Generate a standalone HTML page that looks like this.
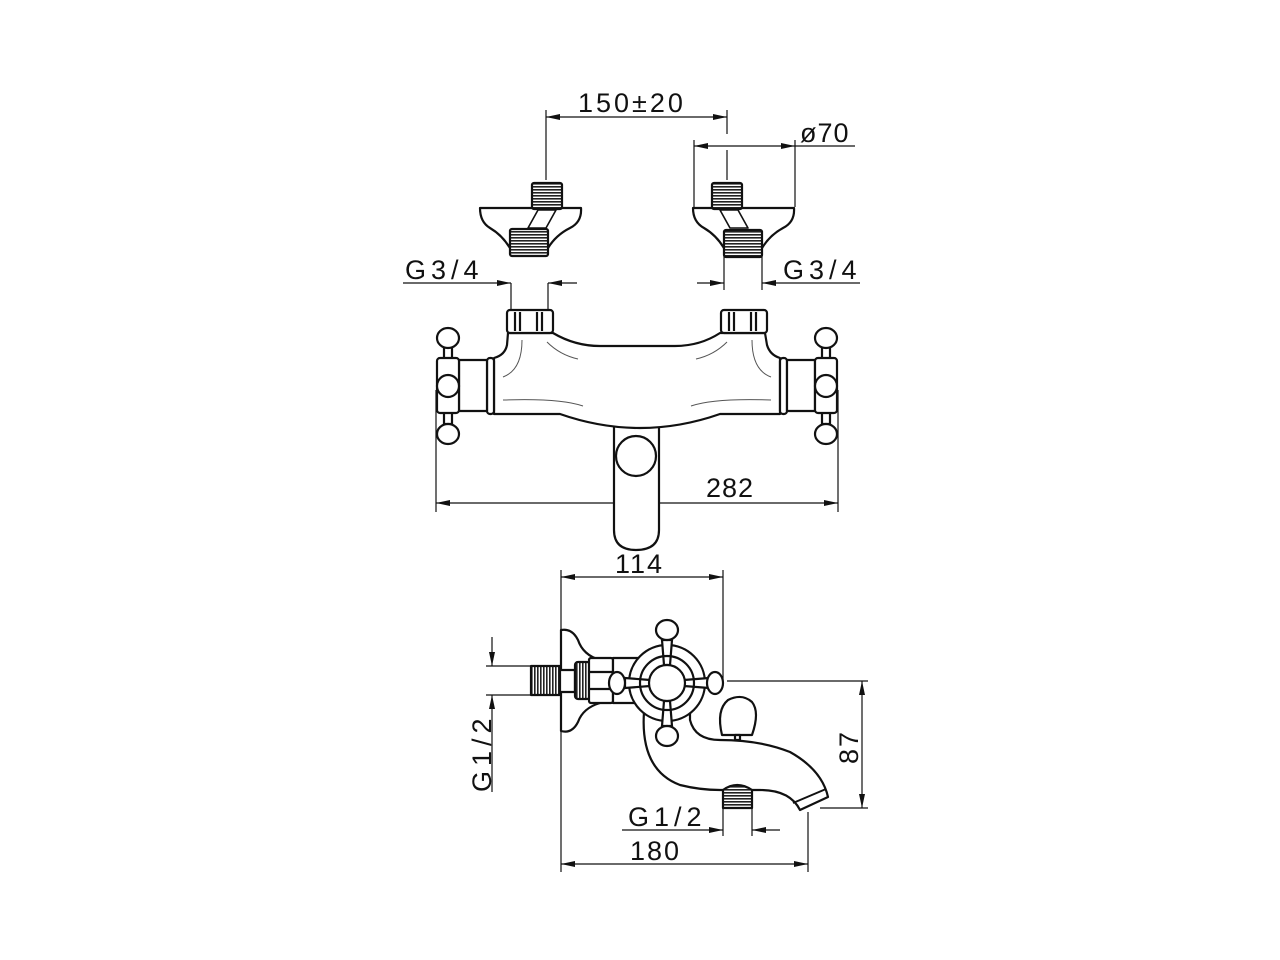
<!DOCTYPE html>
<html><head><meta charset="utf-8"><style>
html,body{margin:0;padding:0;background:#fff}
svg{display:block}
text{font-family:"Liberation Sans",sans-serif;font-size:27px;fill:#111}
</style></head><body>
<svg width="1280" height="960" viewBox="0 0 1280 960" xmlns="http://www.w3.org/2000/svg">
<defs>
<marker id="a" markerWidth="14" markerHeight="6" refX="14" refY="3" orient="auto-start-reverse" markerUnits="userSpaceOnUse">
<path d="M0,0 L14,3 L0,6 z" fill="#111"/></marker>
<pattern id="th" width="4" height="3" patternUnits="userSpaceOnUse"><rect width="4" height="3" fill="#fff"/><rect width="4" height="1.6" fill="#222"/></pattern>
<pattern id="tv" width="3" height="4" patternUnits="userSpaceOnUse"><rect width="3" height="4" fill="#fff"/><rect width="1.6" height="4" fill="#222"/></pattern>
</defs>
<g fill="none" stroke="#111" stroke-width="1.2">
<line x1="546" y1="110" x2="546" y2="180"/>
<line x1="727" y1="110" x2="727" y2="134"/>
<line x1="727" y1="150" x2="727" y2="180"/>
<line x1="546" y1="117" x2="727" y2="117" marker-start="url(#a)" marker-end="url(#a)"/>
<line x1="694" y1="140" x2="694" y2="207"/>
<line x1="795" y1="140" x2="795" y2="207"/>
<line x1="694" y1="146" x2="795" y2="146" marker-start="url(#a)" marker-end="url(#a)"/>
<line x1="795" y1="146" x2="855" y2="146"/>
<line x1="403" y1="283" x2="511" y2="283" marker-end="url(#a)"/>
<line x1="577" y1="283" x2="548" y2="283" marker-end="url(#a)"/>
<line x1="511" y1="283" x2="511" y2="310"/>
<line x1="548" y1="283" x2="548" y2="310"/>
<line x1="697" y1="283" x2="724" y2="283" marker-end="url(#a)"/>
<line x1="860" y1="283" x2="762" y2="283" marker-end="url(#a)"/>
<line x1="724" y1="256" x2="724" y2="290"/>
<line x1="762" y1="256" x2="762" y2="290"/>
<line x1="436" y1="390" x2="436" y2="512"/>
<line x1="838" y1="390" x2="838" y2="512"/>
<line x1="436" y1="503" x2="838" y2="503" marker-start="url(#a)" marker-end="url(#a)"/>
<line x1="561" y1="570" x2="561" y2="872"/>
<line x1="723" y1="570" x2="723" y2="680"/>
<line x1="561" y1="577" x2="723" y2="577" marker-start="url(#a)" marker-end="url(#a)"/>
<line x1="486" y1="666" x2="530" y2="666"/>
<line x1="486" y1="695" x2="530" y2="695"/>
<line x1="492" y1="637" x2="492" y2="666" marker-end="url(#a)"/>
<line x1="492" y1="792" x2="492" y2="695" marker-end="url(#a)"/>
<line x1="727" y1="681" x2="868" y2="681"/>
<line x1="820" y1="808" x2="868" y2="808"/>
<line x1="862" y1="681" x2="862" y2="808" marker-start="url(#a)" marker-end="url(#a)"/>
<line x1="622" y1="830" x2="723" y2="830" marker-end="url(#a)"/>
<line x1="780" y1="830" x2="752" y2="830" marker-end="url(#a)"/>
<line x1="723" y1="808" x2="723" y2="836"/>
<line x1="752" y1="808" x2="752" y2="836"/>
<line x1="808" y1="812" x2="808" y2="872"/>
<line x1="561" y1="864" x2="808" y2="864" marker-start="url(#a)" marker-end="url(#a)"/>
</g>

<text x="578" y="112" letter-spacing="3">150±20</text>
<text x="800" y="142" letter-spacing="1">ø70</text>
<text x="405" y="279" letter-spacing="5">G3/4</text>
<text x="783" y="279" letter-spacing="5">G3/4</text>
<text x="706" y="497" letter-spacing="1">282</text>
<text x="615" y="573" letter-spacing="2">114</text>
<text x="628" y="826" letter-spacing="5">G1/2</text>
<text x="630" y="860" letter-spacing="2">180</text>
<text transform="translate(491,792) rotate(-90)" letter-spacing="5">G1/2</text>
<text transform="translate(858,764) rotate(-90)" letter-spacing="2">87</text>

<g fill="#fff" stroke="#111" stroke-width="2.2" stroke-linejoin="round">
<path d="M480,208 L581,208 Q582,222 570,228 Q556,235 548,248 L510,248 Q502,235 490,228 Q480,222 480,208 z"/>
<path d="M538,210 L556,210 L546,228 L528,228 z" stroke-width="1.6"/>
<rect x="532" y="183" width="30" height="26" rx="2" fill="url(#th)"/>
<rect x="510" y="229" width="38" height="27" rx="2" fill="url(#th)"/>
<path d="M693,208 L794,208 Q795,222 783,228 Q770,235 762,248 L724,248 Q716,235 704,228 Q693,222 693,208 z"/>
<path d="M720,210 L738,210 L748,228 L730,228 z" stroke-width="1.6"/>
<rect x="712" y="183" width="30" height="26" rx="2" fill="url(#th)"/>
<rect x="724" y="230" width="38" height="27" rx="2" fill="url(#th)"/>

<path d="M614,425 L614,530 Q614,550 636,550 Q659,550 659,530 L659,425 z"/>
<circle cx="636" cy="456" r="20"/>
<path d="M508,333 L553,333 Q575,346 600,346 L675,346 Q700,346 720,333 L765,333 L767,345 Q770,355 780,358 L780,414 L720,414 Q680,428 640,428 Q600,428 560,414 L494,414 L494,358 Q505,355 507,345 z"/>
<g fill="none" stroke-width="1" stroke="#555">
<path d="M522,340 Q522,370 503,377"/><path d="M547,342 Q560,355 578,359"/>
<path d="M503,400 Q560,398 583,406"/>
<path d="M752,340 Q752,370 771,377"/><path d="M727,342 Q714,355 696,359"/>
<path d="M771,400 Q714,398 691,406"/>
</g>
<rect x="507" y="310" width="46" height="23" rx="3"/>
<line x1="515" y1="312" x2="515" y2="331"/><line x1="520" y1="312" x2="520" y2="331"/>
<line x1="537" y1="312" x2="537" y2="331"/><line x1="542" y1="312" x2="542" y2="331"/>
<rect x="721" y="310" width="46" height="23" rx="3"/>
<line x1="729" y1="312" x2="729" y2="331"/><line x1="734" y1="312" x2="734" y2="331"/>
<line x1="751" y1="312" x2="751" y2="331"/><line x1="756" y1="312" x2="756" y2="331"/>
<rect x="487" y="358" width="7" height="56" rx="3"/>
<rect x="459" y="360" width="28" height="51"/>
<path d="M444,346 L452,346 L452,360 L444,360 z M444,411 L452,411 L452,424 L444,424 z"/>
<ellipse cx="448" cy="338" rx="11" ry="10"/>
<ellipse cx="448" cy="434" rx="11" ry="10"/>
<rect x="437" y="358" width="22" height="55" rx="3"/>
<circle cx="448" cy="386" r="11"/>
<rect x="780" y="358" width="7" height="56" rx="3"/>
<rect x="787" y="360" width="28" height="51"/>
<path d="M822,346 L830,346 L830,360 L822,360 z M822,411 L830,411 L830,424 L822,424 z"/>
<ellipse cx="826" cy="338" rx="11" ry="10"/>
<ellipse cx="826" cy="434" rx="11" ry="10"/>
<rect x="815" y="358" width="22" height="55" rx="3"/>
<circle cx="826" cy="386" r="11"/>

<path d="M644,712 Q640,770 680,785 Q700,790 720,790 L760,790 Q790,790 800,810 L828,797 Q822,770 790,752 Q760,740 720,740 Q695,740 690,720 L690,712 z"/>
<path d="M793,803 L826,789" stroke-width="2"/>
<path d="M722,735 Q716,710 728,700 Q742,693 752,702 Q760,712 752,735 z"/>
<rect x="735" y="735" width="5" height="5"/>
<path d="M723,808 L723,790 Q737,780 752,790 L752,808 z" fill="url(#th)"/>
<path d="M561,630 Q572,628 578,640 Q583,655 600,660 L600,703 Q583,708 578,722 Q572,734 561,731 z"/>
<rect x="531" y="666" width="29" height="29" fill="url(#tv)"/>
<path d="M560,670 L575,670 L575,692 L560,692 z"/>
<rect x="575" y="662" width="15" height="37" rx="3" fill="url(#tv)"/>
<rect x="589" y="658" width="24" height="45" rx="2"/>
<line x1="589" y1="672" x2="613" y2="672"/><line x1="589" y1="689" x2="613" y2="689"/>
<rect x="613" y="658" width="36" height="45"/>
<circle cx="667" cy="683" r="38"/>
<path d="M662,640 L672,640 L670,665 L664,665 z M662,726 L672,726 L670,701 L664,701 z M625,678 L625,688 L650,686 L650,680 z M709,678 L709,688 L684,686 L684,680 z"/>
<ellipse cx="667" cy="630" rx="11" ry="10"/>
<ellipse cx="667" cy="736" rx="11" ry="10"/>
<ellipse cx="617" cy="683" rx="8" ry="11"/>
<ellipse cx="715" cy="683" rx="8" ry="11"/>
<circle cx="667" cy="683" r="27" fill="none"/>
<circle cx="667" cy="683" r="18"/>
</g>
</svg>
</body></html>
